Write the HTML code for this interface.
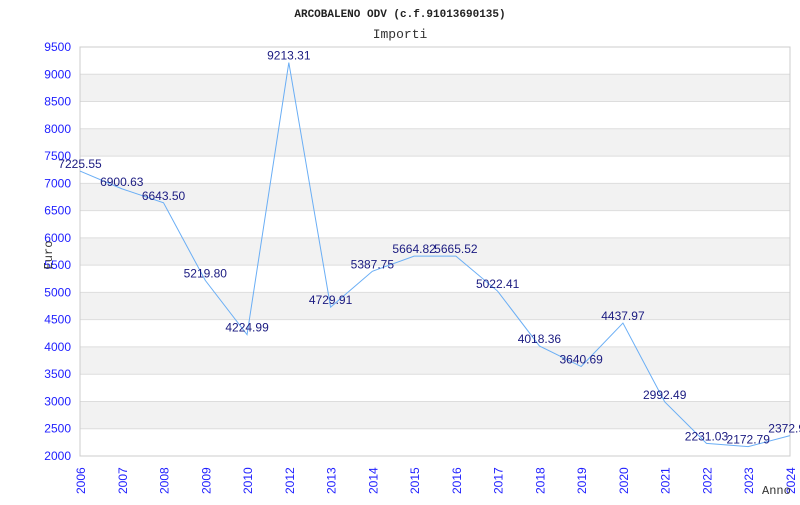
<!DOCTYPE html>
<html><head><meta charset="utf-8"><style>
body{margin:0;background:#fff;}
svg text{font-family:"Liberation Sans",sans-serif;}
</style></head><body>
<svg width="800" height="500" viewBox="0 0 800 500" xmlns="http://www.w3.org/2000/svg">
<rect width="800" height="500" fill="#fff"/>
<text x="400" y="17" text-anchor="middle" font-size="11" font-weight="bold" style="font-family:'Liberation Mono',monospace" fill="#222">ARCOBALENO ODV (c.f.91013690135)</text>
<text x="400" y="38" text-anchor="middle" font-size="13" style="font-family:'Liberation Mono',monospace" fill="#333">Importi</text>
<g id="bands"></g><g id="grid"></g>
<rect x="80" y="47" width="710" height="409" fill="none" stroke="#ccc"/>
<g id="yticks"></g><g id="xticks"></g>
<path id="line" fill="none" stroke="#6aaef5" stroke-width="1"/>
<g id="labels"></g>
<text x="52" y="255" text-anchor="middle" font-size="12" transform="rotate(-90 52 255)" style="font-family:'Liberation Mono',monospace" fill="#333">Euro</text>
<text x="762" y="494" font-size="12" style="font-family:'Liberation Mono',monospace" fill="#333">Anno</text>
</svg>
<script>
const years=[2006,2007,2008,2009,2010,2012,2013,2014,2015,2016,2017,2018,2019,2020,2021,2022,2023,2024];
const values=[7225.55,6900.63,6643.50,5219.80,4224.99,9213.31,4729.91,5387.75,5664.82,5665.52,5022.41,4018.36,3640.69,4437.97,2992.49,2231.03,2172.79,2372.9];
const yTicks=[2000,2500,3000,3500,4000,4500,5000,5500,6000,6500,7000,7500,8000,8500,9000,9500];
const NS="http://www.w3.org/2000/svg";
const x0=80,x1=790,yTop=47,yBot=456,ymin=2000,ymax=9500;
const X=i=>x0+(x1-x0)*i/(years.length-1);
const Y=v=>yBot-(v-ymin)/(ymax-ymin)*(yBot-yTop);
function mk(t,a,p){const e=document.createElementNS(NS,t);for(const k in a)e.setAttribute(k,a[k]);p.appendChild(e);return e;}
const bands=document.getElementById('bands'),grid=document.getElementById('grid'),yt=document.getElementById('yticks'),xt=document.getElementById('xticks'),lb=document.getElementById('labels');
for(let i=0;i<yTicks.length-1;i++){
 if(i%2===1){const r=mk('rect',{x:x0,y:Y(yTicks[i+1]),width:x1-x0,height:Y(yTicks[i])-Y(yTicks[i+1]),fill:'#f2f2f2'},bands);
 
 }
}
yTicks.forEach(v=>{
 const l=mk('line',{x1:x0,x2:x1,y1:Y(v),y2:Y(v),stroke:'#ddd'},grid);
 
 
 const t=mk('text',{x:71,y:Y(v)+4,'text-anchor':'end','font-size':12,fill:'#2020ff'},yt);
 t.textContent=v;
 
 
});
years.forEach((yr,i)=>{
 const x=X(i);
 const t=mk('text',{x:x+5,y:494,'font-size':12,fill:'#2020ff',transform:`rotate(-90 ${x+5} 494)`},xt);
 t.textContent=yr;
 
 
});
let d='';
values.forEach((v,i)=>{
 if(v==null)return;
 d+=(d?'L':'M')+X(i)+','+Y(v);
 const t=mk('text',{x:X(i),y:Y(v)-3,'text-anchor':'middle','font-size':12,fill:'#1a1a80'},lb);
 t.textContent=v.toFixed(2);
 
 
});
document.getElementById('line').setAttribute('d',d);
</script>
</body></html>
